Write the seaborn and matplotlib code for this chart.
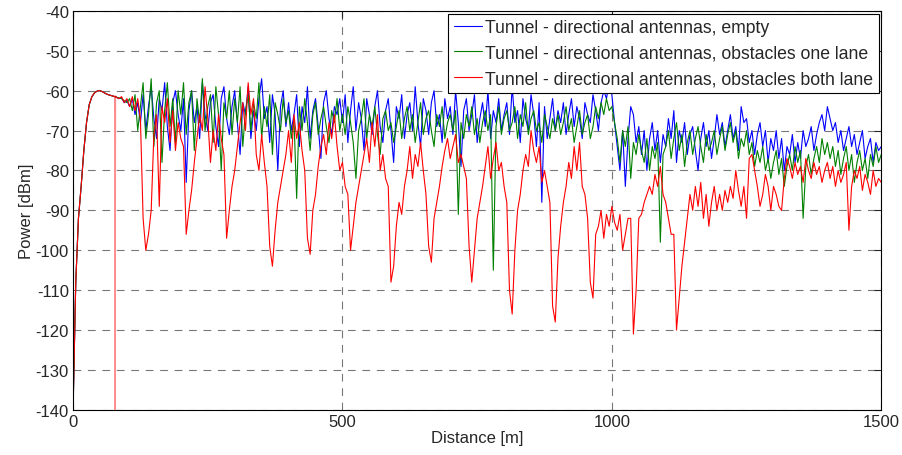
import numpy as np
import pandas as pd
import seaborn as sns
import matplotlib.pyplot as plt

# Distance step between samples [m]
STEP = 5

LABELS = [
    'Tunnel - directional antennas, empty',
    'Tunnel - directional antennas, obstacles one lane',
    'Tunnel - directional antennas, obstacles both lane',
]

# Power [dBm], one value every 5 m from 0 to 1500 m
empty = [
    -140, -108, -92, -84, -75, -68, -63.5, -61.5, -60.5, -60.1, -60, -60.3, -60.7, -61, -61.2, -61.4, -61.6, -62, -61.8, -63,
    -62.5, -64, -62, -66, -63, -68, -61, -70, -64, -59, -67, -72, -62, -65, -58, -69, -75, -63, -60, -66,
    -70, -62, -83, -65, -60, -68, -64, -72, -58, -66, -70, -63, -61, -69, -74, -62, -59, -67, -71, -64,
    -60, -68, -76, -63, -66, -59, -72, -65, -70, -62, -57, -67, -64, -73, -61, -66, -80, -64, -60, -69,
    -63, -70, -66, -61, -74, -64, -68, -59, -72, -65, -62, -69, -77, -63, -60, -67, -71, -64, -66, -62,
    -68, -61, -73, -65, -59, -70, -63, -67, -75, -62, -66, -71, -64, -60, -69, -73, -65, -62, -70, -78,
    -64, -67, -61, -72, -66, -63, -70, -59, -68, -74, -62, -65, -71, -63, -60, -69, -66, -73, -62, -67,
    -64, -71, -60, -68, -79, -65, -62, -70, -66, -61, -73, -67, -63, -69, -60, -72, -65, -68, -62, -70,
    -66, -63, -71, -59, -68, -65, -73, -62, -67, -70, -61, -66, -74, -63, -88, -64, -72, -67, -62, -70,
    -65, -68, -63, -71, -66, -62, -69, -64, -67, -72, -63, -66, -68, -61, -65, -70, -63, -60, -62, -58,
    -61, -68, -74, -80, -70, -84, -72, -64, -66, -73, -69, -76, -70, -80, -72, -68, -75, -70, -78, -71,
    -74, -67, -72, -65, -78, -70, -73, -68, -76, -71, -69, -75, -80, -72, -68, -74, -70, -77, -72, -66,
    -71, -68, -74, -70, -66, -72, -69, -75, -64, -68, -67, -73, -70, -76, -71, -68, -74, -70, -78, -72,
    -75, -70, -77, -72, -80, -74, -76, -71, -78, -73, -77, -70, -74, -72, -69, -75, -71, -68, -66, -70,
    -64, -67, -70, -68, -73, -70, -75, -72, -69, -74, -71, -76, -73, -70, -77, -74, -72, -78, -73, -75, -74,
]

one_lane = [
    -140, -108, -92, -84, -75, -68, -63.5, -61.5, -60.5, -60.1, -60, -60.3, -60.7, -61, -61.2, -61.4, -61.6, -61.8, -62, -62.5,
    -63, -62, -65, -61, -70, -64, -58, -72, -66, -57, -74, -63, -60, -78, -65, -58, -69, -62, -73, -60,
    -66, -58, -71, -63, -60, -75, -62, -68, -57, -70, -64, -61, -73, -59, -66, -80, -63, -67, -60, -71,
    -62, -68, -59, -74, -65, -61, -70, -63, -67, -58, -72, -64, -69, -61, -76, -63, -66, -70, -62, -68,
    -65, -72, -67, -87, -64, -70, -62, -68, -75, -66, -63, -71, -67, -64, -69, -73, -65, -68, -62, -70,
    -66, -71, -64, -68, -73, -82, -70, -67, -62, -72, -66, -69, -64, -71, -76, -67, -65, -70, -68, -73,
    -69, -65, -72, -67, -64, -70, -66, -73, -68, -63, -71, -67, -65, -70, -74, -66, -69, -64, -72, -68,
    -66, -70, -65, -91, -68, -72, -66, -69, -64, -71, -67, -73, -68, -65, -70, -66, -105, -69, -64, -71,
    -67, -65, -70, -68, -64, -72, -66, -69, -63, -71, -67, -65, -70, -68, -73, -66, -69, -72, -67, -70,
    -66, -71, -68, -64, -70, -67, -73, -69, -65, -71, -68, -66, -72, -69, -64, -67, -63, -66, -62, -65,
    -64, -68, -72, -78, -70, -74, -69, -82, -73, -76, -71, -75, -78, -72, -80, -74, -77, -73, -98, -76,
    -74, -70, -77, -72, -68, -75, -71, -79, -73, -70, -76, -72, -69, -74, -78, -71, -75, -73, -70, -76,
    -72, -69, -75, -71, -68, -73, -70, -77, -72, -74, -70, -76, -73, -79, -75, -78, -74, -80, -77, -82,
    -78, -75, -81, -77, -84, -79, -76, -80, -74, -78, -75, -92, -79, -76, -81, -77, -74, -78, -72, -76,
    -73, -77, -74, -79, -75, -81, -77, -74, -80, -76, -83, -78, -75, -80, -77, -82, -76, -79, -74, -78, -76,
]

both_lanes = [
    -140, -108, -92, -84, -75, -68, -63.5, -61.5, -60.5, -60.1, -60, -60.3, -60.7, -61, -61.2, -61.4, -61.6, -62, -61.5, -63,
    -62, -64, -61.5, -65, -62, -67, -92, -100, -96, -90, -71, -66, -89, -64, -68, -62, -73, -65, -75, -68,
    -72, -74, -96, -90, -85, -78, -72, -66, -70, -59, -67, -78, -70, -75, -66, -72, -76, -97, -90, -84,
    -80, -74, -68, -63, -70, -58, -66, -62, -76, -80, -71, -78, -84, -99, -104, -95, -88, -84, -80, -76,
    -70, -78, -66, -72, -68, -75, -80, -97, -101, -90, -86, -79, -74, -71, -76, -68, -72, -66, -74, -80,
    -78, -84, -86, -100, -94, -88, -84, -80, -76, -72, -78, -68, -74, -66, -80, -76, -82, -84, -108, -104,
    -94, -88, -91, -84, -80, -74, -82, -76, -79, -73, -80, -86, -99, -103, -92, -88, -84, -79, -75, -72,
    -77, -74, -71, -78, -76, -79, -82, -99, -108, -100, -92, -88, -84, -79, -74, -82, -77, -73, -80, -78,
    -84, -88, -110, -116, -100, -90, -86, -80, -76, -79, -70, -75, -78, -74, -83, -80, -84, -88, -114, -118,
    -102, -94, -88, -84, -78, -82, -74, -80, -73, -84, -86, -92, -108, -112, -96, -94, -90, -97, -91, -94,
    -89, -93, -95, -91, -100, -96, -92, -92, -121, -110, -92, -91, -88, -86, -84, -86, -81, -84, -79, -86,
    -88, -92, -96, -96, -120, -112, -104, -98, -92, -86, -90, -84, -89, -83, -92, -86, -94, -88, -84, -90,
    -86, -90, -85, -88, -84, -87, -80, -85, -89, -84, -92, -77, -76, -80, -84, -89, -86, -81, -84, -90,
    -84, -86, -89, -90, -82, -77, -79, -82, -78, -81, -79, -83, -77, -80, -82, -78, -81, -79, -83, -80,
    -78, -82, -79, -84, -80, -83, -81, -78, -95, -84, -80, -82, -79, -85, -81, -83, -86, -80, -84, -82, -83,
]

# single dropout sample of the "both lane" measurement near 78 m
dropout_dist = [77, 78, 79]
dropout_power = [-61.3, -150, -61.3]

COLORS = ['#0000ff', '#008000', '#ff0000']


def build_frame():
    parts = []
    for label, vals in zip(LABELS, [empty, one_lane, both_lanes]):
        parts.append(pd.DataFrame({
            'distance': np.arange(len(vals)) * STEP,
            'power': vals,
            'series': label,
        }))
    return pd.concat(parts, ignore_index=True)


def main():
    df = build_frame()

    sns.set_style('white')
    plt.rcParams['font.family'] = ['Liberation Sans', 'DejaVu Sans']
    plt.rcParams['axes.unicode_minus'] = False

    fig = plt.figure(figsize=(9.02, 4.56), dpi=100)
    ax = fig.add_axes([0.081, 0.099, 0.896, 0.875])

    sns.lineplot(data=df, x='distance', y='power', hue='series', hue_order=LABELS,
                 palette=COLORS, linewidth=0.8, estimator=None, sort=False, ax=ax)
    ax.plot(dropout_dist, dropout_power, color='#ff0000', alpha=0.45, linewidth=0.8)

    ax.set_xlim(0, 1500)
    ax.set_ylim(-140, -40)
    ax.set_xticks([0, 500, 1000, 1500])
    ax.set_yticks(np.arange(-140, -39, 10))
    ax.set_xlabel('Distance [m]', fontsize=12, labelpad=1)
    ax.set_ylabel('Power [dBm]', fontsize=12, labelpad=1)
    ax.tick_params(direction='in', top=True, right=True, length=5, labelsize=12, pad=3)
    ax.grid(True, color='#555555', linestyle=(0, (7, 6)), linewidth=0.8, alpha=0.8)
    for sp in ax.spines.values():
        sp.set_color('black')
        sp.set_linewidth(0.8)

    leg = ax.legend(loc='upper right', fontsize=12.7, frameon=True, fancybox=False,
                    edgecolor='black', framealpha=1, handlelength=1.6, borderpad=0.3,
                    labelspacing=0.5, handletextpad=0.2, borderaxespad=0.15)
    leg.get_frame().set_linewidth(0.8)

    fig.savefig('out.png', dpi=100)


if __name__ == '__main__':
    main()
